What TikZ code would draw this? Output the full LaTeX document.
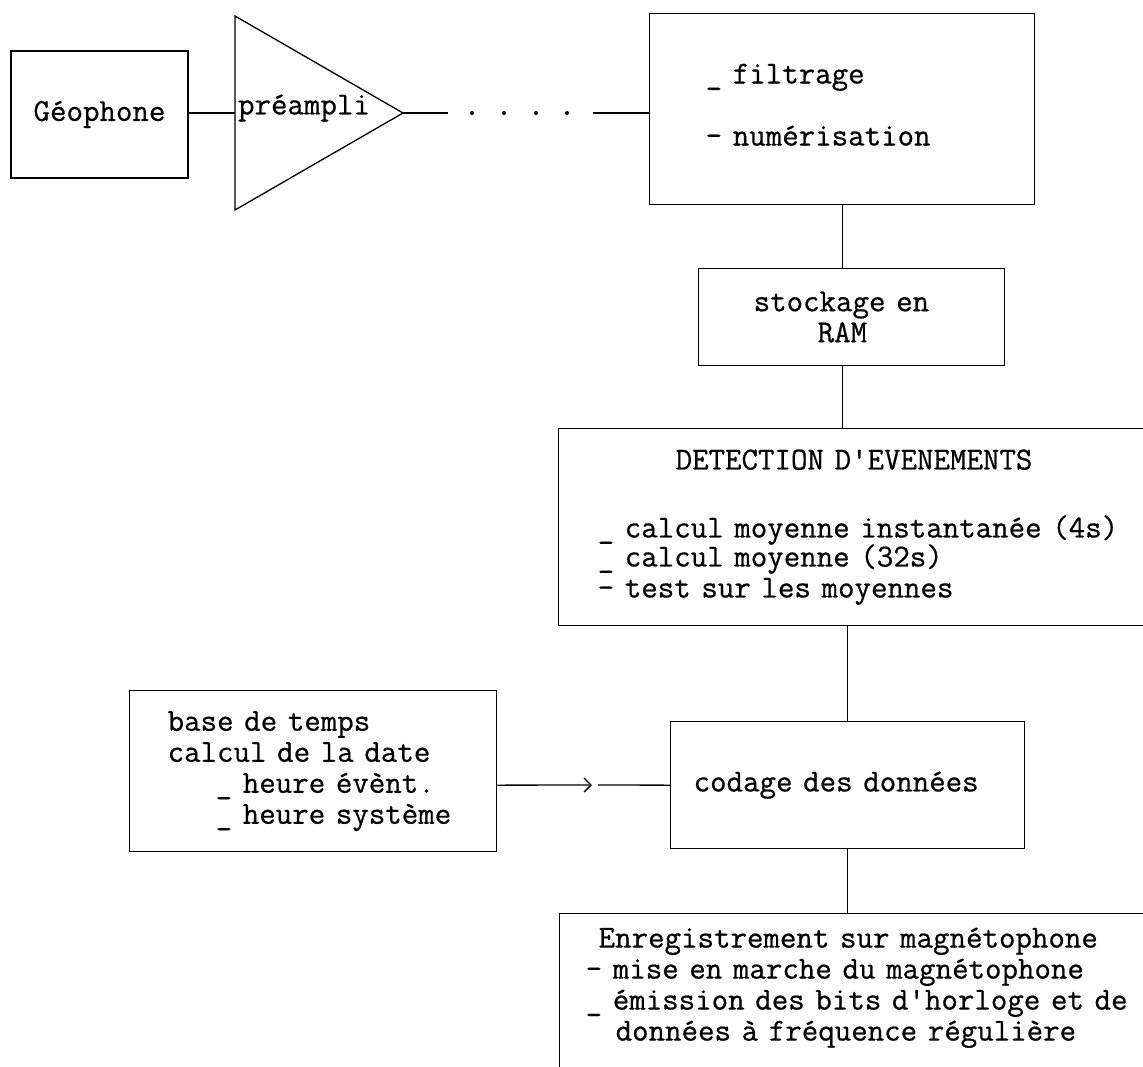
\documentclass[tikz,border=0pt]{standalone}
\usepackage{fontspec}
\setmonofont{Latin Modern Mono}[FakeBold=0.6]
\usepackage{tikz}
\usetikzlibrary{positioning}
\usetikzlibrary{arrows.meta}

\begin{document}
\begin{tikzpicture}[x=1pt, y=-1pt,
	blk/.style={draw, rectangle, line width=1.3pt, inner sep=0pt, font=\ttfamily\fontsize{32}{31}\selectfont},
	txt/.style={inner sep=0pt, font=\ttfamily\fontsize{32}{31}\selectfont},
	wire/.style={line width=1.3pt},
	>={Straight Barb[length=7pt, width=14pt]}]
	
	\useasboundingbox (0, 0) rectangle (1143, 1066);
	\clip (0, 0) rectangle (1143, 1066);
	
	\node [blk, minimum width=177pt, minimum height=127pt] at (99.5, 114.5) (geophone){Géophone};
	
	\draw [wire] (235, 16) -- (403, 113) coordinate (amp_out) -- (235, 210) -- cycle;
	\coordinate (amp_in) at (235, 113);
	\node [txt] at (304, 108) (preampli){préampli};
	
	\node [blk, anchor=north west, text width=273pt, inner xsep=56pt, minimum height=191pt, align=left] at (649, 13) (filtrage){\_ filtrage\\[31pt]- numérisation\\[-22pt]\mbox{}};
	
	\node [blk, anchor=north west, text width=196pt, inner xsep=55pt, minimum height=97pt, align=left] at (698, 268) (stockage){stockage en\\\hspace*{64pt}RAM};
	
	\node [blk, anchor=north west, text width=580pt, inner xsep=39pt, minimum height=197pt, align=left] at (558, 428) (detection){\hspace*{78pt}DETECTION D\textquotesingle EVENEMENTS\\[37pt]\_ calcul moyenne instantanée (4s)\\[-2pt]\_ calcul moyenne (32s)\\- test sur les moyennes};
	
	\node [blk, anchor=north west, text width=291pt, inner xsep=38pt, minimum height=161pt, align=left] at (129, 690) (base){base de temps\\calcul de la date\\\hspace*{48pt}\_ heure évènt.\\\hspace*{48pt}\_ heure système};
	
	\node [blk, anchor=north west, text width=308pt, inner xsep=23pt, minimum height=127pt, align=left] at (670, 721) (codage){codage des données};
	
	\node [blk, anchor=north west, text width=560pt, inner xsep=26pt, inner ysep=14pt, text depth=140pt, align=left] at (559, 913) (enreg){\hspace*{13pt}Enregistrement sur magnétophone\\- mise en marche du magnétophone\\\_ émission des bits d\textquotesingle horloge et de\\\hspace*{30pt}données à fréquence régulière};
	
	% chain along the top
	\coordinate (dots_start) at (448, 113);
	\coordinate (dots_end) at (593, 113);
	\draw [wire] (geophone.east |- amp_in) -- (amp_in);
	\draw [wire] (amp_out) -- (dots_start);
	\foreach \x in {472, 504, 536, 567}{
		\fill (\x, 113) circle (2pt);
	}
	\draw [wire] (dots_end) -- (dots_end -| filtrage.west);
	
	% vertical chain
	\draw [wire] (filtrage.south) -- (filtrage.south |- stockage.north);
	\draw [wire] (filtrage.south |- stockage.south) -- (filtrage.south |- detection.north);
	\draw [wire] (codage.north |- detection.south) -- (codage.north);
	\draw [wire] (codage.south) -- (codage.south |- enreg.north);
	
	% time base into coding
	\coordinate (arr_tip) at (592, 785);
	\coordinate (arr_next) at (598, 785);
	\draw [wire, ->] (base.east |- codage.west) -- (arr_tip);
	\draw [wire] (arr_next) -- (codage.west);
	
\end{tikzpicture}
\end{document}
